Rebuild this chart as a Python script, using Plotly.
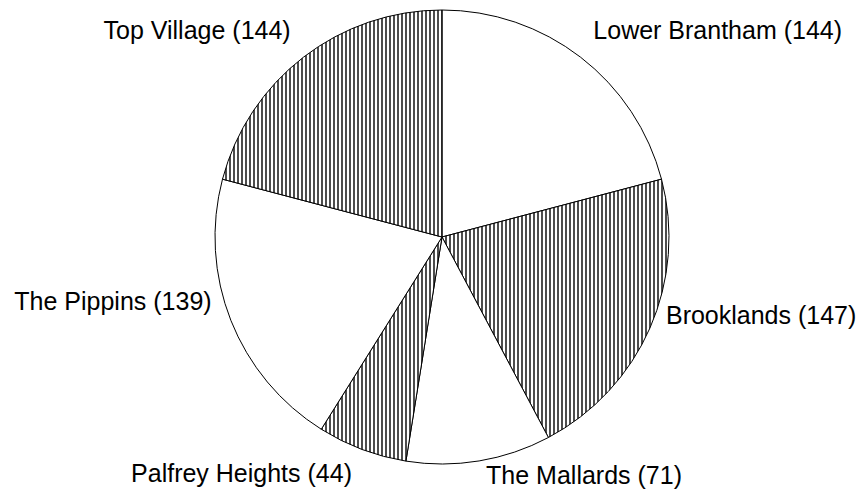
import plotly.graph_objects as go

# estates in clockwise order from 12 o'clock
estates = ["Lower Brantham", "Brooklands", "The Mallards",
           "Palfrey Heights", "The Pippins", "Top Village"]
households = [144, 147, 71, 44, 139, 144]
hatched = [False, True, False, True, False, True]

# small blank lines put above / below each label to nudge where plotly places it
pad_above = [0, 0, 0, 2, 0, 0]
pad_below = [2, 3, 0, 0, 4, 2]

W, H = 865, 499
BODY = 8  # default <body> margin of the exported page
LABEL_SIZE = 25
PAD_SIZE = 10  # base text size, sets the height of the padding lines


def dom(cx, cy, r):
    # pie domain (paper units) from a centre / radius in page pixels
    cx, cy = cx - BODY, cy - BODY
    return dict(x=[(cx - r) / W, (cx + r) / W], y=[(H - cy - r) / H, (H - cy + r) / H])


templates = [
    " <br>" * a
    + f"<span style='font-size:{LABEL_SIZE}px'>%{{label}} (%{{value}})</span>"
    + "<br> " * b
    for a, b in zip(pad_above, pad_below)
]

fig = go.Figure(go.Pie(
    labels=estates,
    values=households,
    sort=False,
    direction="clockwise",
    rotation=0,
    texttemplate=templates,
    textposition="outside",
    textfont=dict(family="Liberation Sans, Arial, sans-serif", size=PAD_SIZE, color="black"),
    automargin=False,
    marker=dict(
        colors=["white"] * len(estates),
        line=dict(color="black", width=1),
        pattern=dict(
            shape=["|" if h else "" for h in hatched],
            fgcolor="black",
            bgcolor="white",
            size=4,
            solidity=0.35,
        ),
    ),
    domain=dom(442, 237, 227),
    showlegend=False,
    hoverinfo="label+value",
))

fig.update_layout(
    width=W,
    height=H,
    margin=dict(l=0, r=0, t=0, b=0, autoexpand=False),
    paper_bgcolor="white",
    plot_bgcolor="white",
)

fig.write_html("out.html")
